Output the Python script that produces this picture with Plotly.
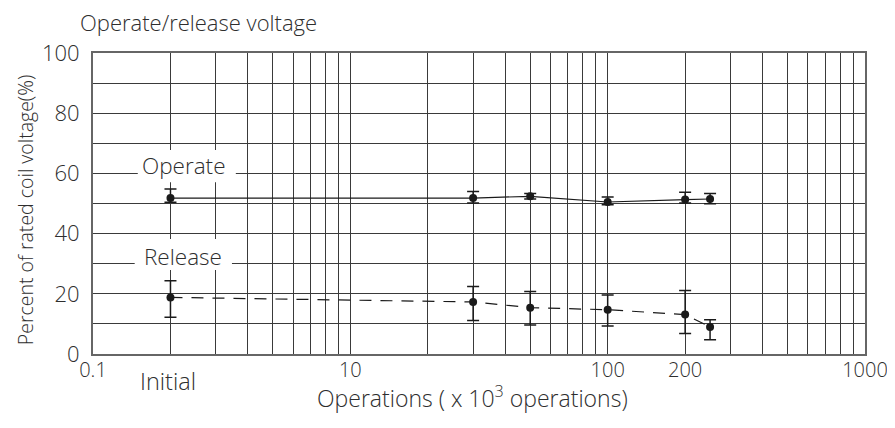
import plotly.graph_objects as go

# ---- data ----
ops = [2, 30, 50, 100, 200, 250]          # x position; 2 is the "Initial" column
operate = [51.8, 51.8, 52.4, 50.5, 51.3, 51.5]
operate_hi = [54.8, 54.0, 53.3, 52.2, 53.7, 53.3]
operate_lo = [50.4, 50.2, 51.5, 49.6, 50.2, 49.9]
release = [18.8, 17.3, 15.4, 14.7, 13.1, 9.0]
release_hi = [24.3, 22.4, 20.8, 19.6, 21.1, 11.4]
release_lo = [12.2, 11.1, 9.6, 9.3, 6.8, 4.7]

grid_x = [1, 2, 3, 4, 5, 6, 7, 8, 9,
          10, 20, 30, 40, 50, 60, 70, 80, 90,
          100, 200, 300, 400, 500, 600, 700, 800, 900, 1000]
x_labels = {1: "0.1", 10: "10", 100: "100", 200: "200", 1000: "1000"}
y_ticks = [0, 20, 40, 60, 80, 100]

FONT = "Open Sans"
TXT = "#2e2e2e"

def tf(size):
    return dict(family=FONT, size=size, color=TXT, weight=300)

def err(vals, hi, lo):
    return dict(type="data", symmetric=False,
                array=[h - v for h, v in zip(hi, vals)],
                arrayminus=[v - l for v, l in zip(vals, lo)],
                color="#1a1a1a", thickness=1.5, width=6)

fig = go.Figure()
fig.add_trace(go.Scatter(
    x=ops, y=operate, mode="lines+markers", name="Operate",
    line=dict(color="#1a1a1a", width=1.2),
    marker=dict(color="#1a1a1a", size=8),
    error_y=err(operate, operate_hi, operate_lo)))
fig.add_trace(go.Scatter(
    x=ops, y=release, mode="lines+markers", name="Release",
    line=dict(color="#1a1a1a", width=1.2, dash="12px,9px"),
    marker=dict(color="#1a1a1a", size=8),
    error_y=err(release, release_hi, release_lo)))

# white boxes behind the series labels
for (x0, x1, y0, y1) in [(0.058, 0.185, 0.571, 0.678), (0.054, 0.180, 0.279, 0.382)]:
    fig.add_shape(type="rect", xref="paper", yref="paper",
                  x0=x0, x1=x1, y0=y0, y1=y1,
                  fillcolor="white", line=dict(width=0), layer="above")

fig.add_annotation(text="Operate", xref="paper", yref="paper", x=0.118, y=0.625,
                   xanchor="center", yanchor="middle", showarrow=False, font=tf(22.5))
fig.add_annotation(text="Release", xref="paper", yref="paper", x=0.117, y=0.324,
                   xanchor="center", yanchor="middle", showarrow=False, font=tf(22.5))
fig.add_annotation(text="Initial", xref="paper", yref="paper", x=0.097, y=-0.0897,
                   xanchor="center", yanchor="middle", showarrow=False, font=tf(23.5))
fig.add_annotation(text="Operate/release voltage", xref="paper", yref="paper",
                   x=-0.019, y=1.103, xanchor="left", yanchor="middle", showarrow=False,
                   font=tf(22))
# axis titles
fig.add_annotation(text="Operations ( x 10<sup>3</sup> operations)", xref="paper", yref="paper",
                   x=0.491, y=-0.143, xanchor="center", yanchor="middle", showarrow=False,
                   font=tf(23))
fig.add_annotation(text="Percent of rated coil voltage(%)", xref="paper", yref="paper",
                   x=-0.088, y=0.478, xanchor="center", yanchor="middle", showarrow=False,
                   textangle=-90, font=tf(19.5))

fig.update_xaxes(type="log", range=[0, 3],
                 tickvals=grid_x,
                 ticktext=[x_labels.get(v, "") for v in grid_x],
                 showgrid=True, gridcolor="#3a3a3a", gridwidth=1,
                 showline=True, linecolor="#666666", linewidth=2, mirror=True,
                 ticks="", zeroline=False, ticklabelstandoff=-3,
                 tickfont=tf(20))
fig.update_yaxes(range=[0, 100], tickvals=y_ticks,
                 showgrid=True, gridcolor="#3a3a3a", gridwidth=1,
                 minor=dict(dtick=10, showgrid=True, gridcolor="#3a3a3a", gridwidth=1),
                 showline=True, linecolor="#666666", linewidth=2, mirror=True,
                 ticks="", zeroline=False, ticklabelstandoff=7,
                 tickfont=tf(22))

fig.update_layout(width=887, height=420,
                  margin=dict(l=85, r=30, t=45, b=74, autoexpand=False),
                  paper_bgcolor="white", plot_bgcolor="white",
                  showlegend=False)

fig.write_html("out.html")
